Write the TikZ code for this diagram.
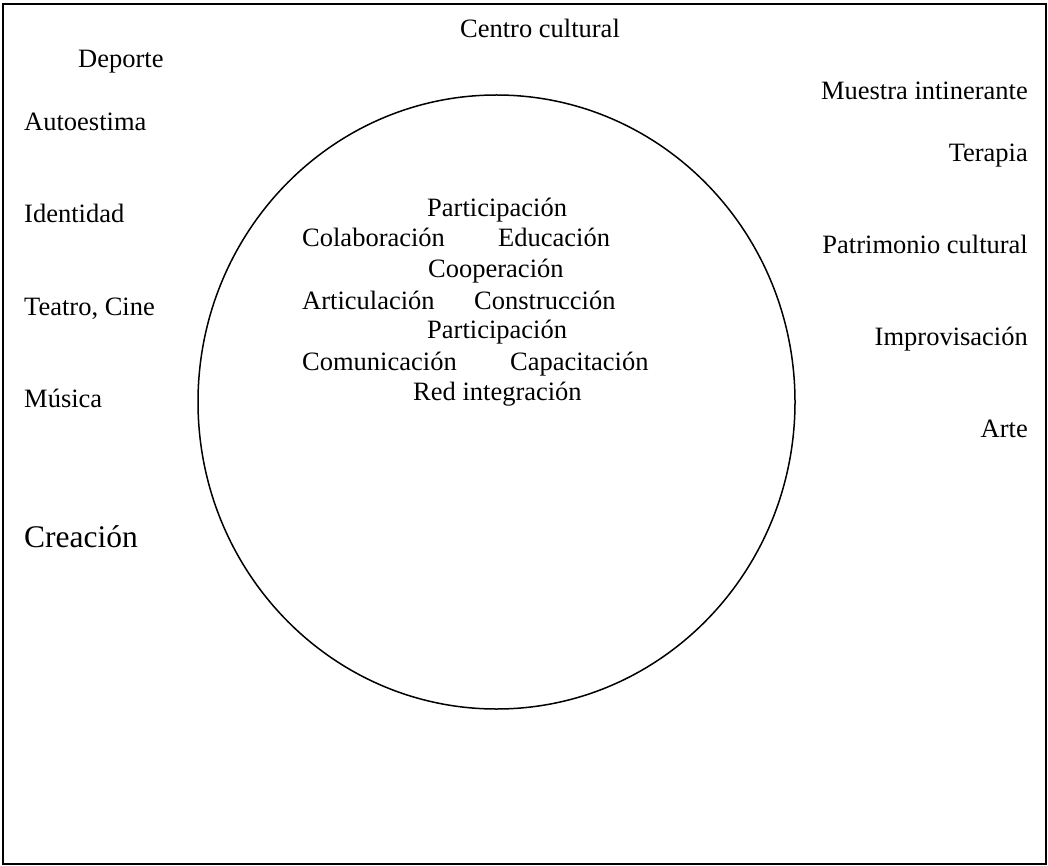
\documentclass[tikz,border=0pt]{standalone}
\usepackage{fontspec}
\setmainfont{Liberation Serif}
\usetikzlibrary{shapes.geometric}
\begin{document}
\begin{tikzpicture}[x=1pt,y=-1pt,
  lbl/.style={inner sep=0pt,font=\fontsize{26.5}{30}\selectfont},
  lw/.style={lbl,anchor=base west},
  le/.style={lbl,anchor=base east},
  big/.style={inner sep=0pt,anchor=base west,font=\fontsize{31.5}{36}\selectfont}]
\useasboundingbox (0,0) rectangle (1048,866);
\draw[line width=1.6pt] (3,4) rectangle (1046,864);
\node[draw,line width=1.5pt,ellipse,minimum width=597pt,minimum height=614pt,inner sep=0pt] (circ) at (496.5,402) {};
% top
\node[lbl,anchor=base] (centro) at (540,38) {Centro cultural};
% left
\node[lw] (deporte) at (78,68) {Deporte};
\node[lw] (auto) at (24,131) {Autoestima};
\node[lw] (ident) at (24,223) {Identidad};
\node[lw] (teatro) at (24,315) {Teatro, Cine};
\node[lw] (musica) at (24,407) {Música};
\node[big] (creacion) at (24,547) {Creación};
% right
\node[le] (muestra) at (1028,100) {Muestra intinerante};
\node[le] (terapia) at (1028,162) {Terapia};
\node[le] (patri) at (1028,254) {Patrimonio cultural};
\node[le] (impro) at (1028,345) {Improvisación};
\node[le] (arte) at (1028,437) {Arte};
% center
\node[lw] (part1) at (427,217) {Participación};
\node[lw] (colab) at (302,247) {Colaboración};
\node[lw] (educ) at (498,247) {Educación};
\node[lw] (coop) at (428,278) {Cooperación};
\node[lw] (artic) at (302,309) {Articulación};
\node[lw] (constr) at (474,309) {Construcción};
\node[lw] (part2) at (427,338) {Participación};
\node[lw] (comun) at (302,370) {Comunicación};
\node[lw] (capac) at (510,370) {Capacitación};
\node[lw] (red) at (413,400) {Red integración};
\end{tikzpicture}
\end{document}
